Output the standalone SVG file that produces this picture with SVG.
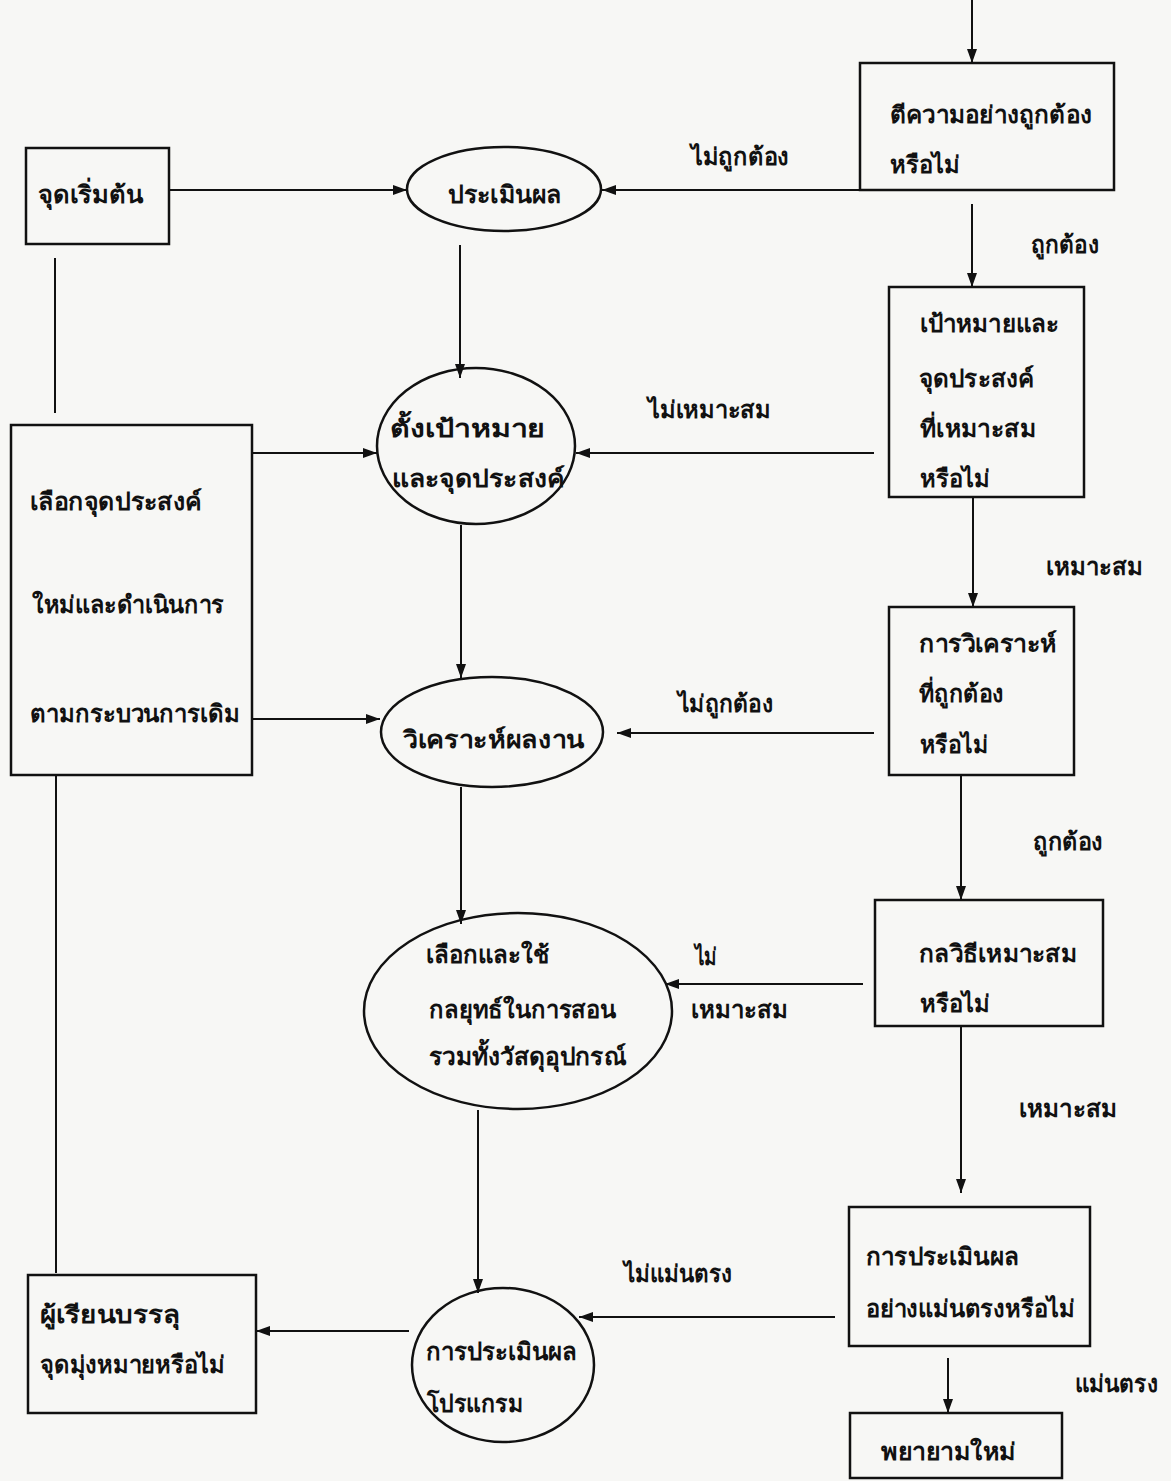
<svg xmlns="http://www.w3.org/2000/svg" width="1171" height="1481" viewBox="0 0 1171 1481">
<style>
.n{fill:none;stroke:#111;stroke-width:2.5}
.c{fill:none;stroke:#111;stroke-width:2}
text{font-family:"Noto Sans","DejaVu Sans",sans-serif;font-size:24px;font-weight:bold;fill:#111;dominant-baseline:central;lengthAdjust:spacingAndGlyphs}
.m{text-anchor:middle}
</style>
<defs>
<marker id="a" viewBox="0 0 14 10" refX="14" refY="5" markerWidth="14" markerHeight="10" markerUnits="userSpaceOnUse" orient="auto">
<path d="M0,0L14,5L0,10z" fill="#111"/>
</marker>
</defs>
<rect width="1171" height="1481" fill="#f7f7f5"/>
<g id="connectors">
<line class="c" x1="972" y1="0" x2="972" y2="63" marker-end="url(#a)"/>
<line class="c" x1="169" y1="190" x2="407" y2="190" marker-end="url(#a)"/>
<line class="c" x1="1114" y1="190" x2="602" y2="190" marker-end="url(#a)"/>
<line class="c" x1="972" y1="204" x2="972" y2="287" marker-end="url(#a)"/>
<line class="c" x1="55" y1="258" x2="55" y2="413"/>
<line class="c" x1="460" y1="245" x2="460" y2="378" marker-end="url(#a)"/>
<line class="c" x1="252" y1="453" x2="377" y2="453" marker-end="url(#a)"/>
<line class="c" x1="874" y1="453" x2="576" y2="453" marker-end="url(#a)"/>
<line class="c" x1="973" y1="497" x2="973" y2="607" marker-end="url(#a)"/>
<line class="c" x1="461" y1="525" x2="461" y2="678" marker-end="url(#a)"/>
<line class="c" x1="252" y1="719" x2="380" y2="719" marker-end="url(#a)"/>
<line class="c" x1="874" y1="733" x2="617" y2="733" marker-end="url(#a)"/>
<line class="c" x1="461" y1="787" x2="461" y2="924" marker-end="url(#a)"/>
<line class="c" x1="961" y1="775" x2="961" y2="900" marker-end="url(#a)"/>
<line class="c" x1="863" y1="984" x2="665" y2="984" marker-end="url(#a)"/>
<line class="c" x1="961" y1="1026" x2="961" y2="1193" marker-end="url(#a)"/>
<line class="c" x1="478" y1="1110" x2="478" y2="1293" marker-end="url(#a)"/>
<line class="c" x1="835" y1="1317" x2="579" y2="1317" marker-end="url(#a)"/>
<line class="c" x1="409" y1="1331" x2="256" y2="1331" marker-end="url(#a)"/>
<line class="c" x1="56" y1="775" x2="56" y2="1273"/>
<line class="c" x1="948" y1="1358" x2="948" y2="1413" marker-end="url(#a)"/>
</g>
<g id="n-interpret">
<rect class="n" x="860" y="63" width="254" height="127"/>
<text x="890" y="113" textLength="202" lengthAdjust="spacingAndGlyphs">ตีความอย่างถูกต้อง</text>
<text x="890" y="163" textLength="70" lengthAdjust="spacingAndGlyphs">หรือไม่</text>
</g>
<g id="n-start">
<rect class="n" x="26" y="148" width="143" height="96"/>
<text x="38" y="193" textLength="105" lengthAdjust="spacingAndGlyphs">จุดเริ่มต้น</text>
</g>
<g id="n-evaluate">
<ellipse class="n" cx="504" cy="189" rx="97" ry="42"/>
<text x="448" y="193" textLength="114" lengthAdjust="spacingAndGlyphs">ประเมินผล</text>
</g>
<g id="n-goal">
<rect class="n" x="889" y="287" width="195" height="210"/>
<text x="920" y="322" textLength="139" lengthAdjust="spacingAndGlyphs">เป้าหมายและ</text>
<text x="919" y="377" textLength="115" lengthAdjust="spacingAndGlyphs">จุดประสงค์</text>
<text x="920" y="427" textLength="116" lengthAdjust="spacingAndGlyphs">ที่เหมาะสม</text>
<text x="920" y="477" textLength="70" lengthAdjust="spacingAndGlyphs">หรือไม่</text>
</g>
<g id="n-setgoal">
<ellipse class="n" cx="476" cy="446" rx="99" ry="78"/>
<text x="390" y="427" textLength="155" lengthAdjust="spacingAndGlyphs">ตั้งเป้าหมาย</text>
<text x="392" y="477" textLength="173" lengthAdjust="spacingAndGlyphs">และจุดประสงค์</text>
</g>
<g id="n-reselect">
<rect class="n" x="11" y="425" width="241" height="350"/>
<text x="30" y="500" textLength="172" lengthAdjust="spacingAndGlyphs">เลือกจุดประสงค์</text>
<text x="32" y="603" textLength="192" lengthAdjust="spacingAndGlyphs">ใหม่และดำเนินการ</text>
<text x="30" y="712" textLength="210" lengthAdjust="spacingAndGlyphs">ตามกระบวนการเดิม</text>
</g>
<g id="n-analysis">
<rect class="n" x="889" y="607" width="185" height="168"/>
<text x="919" y="642" textLength="138" lengthAdjust="spacingAndGlyphs">การวิเคราะห์</text>
<text x="919" y="692" textLength="85" lengthAdjust="spacingAndGlyphs">ที่ถูกต้อง</text>
<text x="920" y="743" textLength="68" lengthAdjust="spacingAndGlyphs">หรือไม่</text>
</g>
<g id="n-analyze">
<ellipse class="n" cx="492" cy="732" rx="111" ry="55"/>
<text x="403" y="738" textLength="181" lengthAdjust="spacingAndGlyphs">วิเคราะห์ผลงาน</text>
</g>
<g id="n-method">
<rect class="n" x="875" y="900" width="228" height="126"/>
<text x="919" y="952" textLength="158" lengthAdjust="spacingAndGlyphs">กลวิธีเหมาะสม</text>
<text x="920" y="1002" textLength="70" lengthAdjust="spacingAndGlyphs">หรือไม่</text>
</g>
<g id="n-strategy">
<ellipse class="n" cx="518" cy="1011" rx="154" ry="98"/>
<text x="426" y="953" textLength="123" lengthAdjust="spacingAndGlyphs">เลือกและใช้</text>
<text x="429" y="1008" textLength="187" lengthAdjust="spacingAndGlyphs">กลยุทธ์ในการสอน</text>
<text x="429" y="1055" textLength="197" lengthAdjust="spacingAndGlyphs">รวมทั้งวัสดุอุปกรณ์</text>
</g>
<g id="n-accurate">
<rect class="n" x="849" y="1207" width="241" height="139"/>
<text x="866" y="1255" textLength="153" lengthAdjust="spacingAndGlyphs">การประเมินผล</text>
<text x="866" y="1307" textLength="209" lengthAdjust="spacingAndGlyphs">อย่างแม่นตรงหรือไม่</text>
</g>
<g id="n-program">
<ellipse class="n" cx="503" cy="1365" rx="91" ry="77"/>
<text x="426" y="1350" textLength="151" lengthAdjust="spacingAndGlyphs">การประเมินผล</text>
<text x="427" y="1402" textLength="96" lengthAdjust="spacingAndGlyphs">โปรแกรม</text>
</g>
<g id="n-learner">
<rect class="n" x="28" y="1275" width="228" height="138"/>
<text x="40" y="1313" textLength="140" lengthAdjust="spacingAndGlyphs">ผู้เรียนบรรลุ</text>
<text x="40" y="1363" textLength="185" lengthAdjust="spacingAndGlyphs">จุดมุ่งหมายหรือไม่</text>
</g>
<g id="n-retry">
<rect class="n" x="850" y="1413" width="212" height="65"/>
<text x="881" y="1450" textLength="135" lengthAdjust="spacingAndGlyphs">พยายามใหม่</text>
</g>
<g id="labels">
<text x="691" y="155" textLength="98" lengthAdjust="spacingAndGlyphs">ไม่ถูกต้อง</text>
<text x="1031" y="243" textLength="68" lengthAdjust="spacingAndGlyphs">ถูกต้อง</text>
<text x="648" y="408" textLength="123" lengthAdjust="spacingAndGlyphs">ไม่เหมาะสม</text>
<text x="1046" y="565" textLength="97" lengthAdjust="spacingAndGlyphs">เหมาะสม</text>
<text x="678" y="702" textLength="95" lengthAdjust="spacingAndGlyphs">ไม่ถูกต้อง</text>
<text x="1033" y="840" textLength="70" lengthAdjust="spacingAndGlyphs">ถูกต้อง</text>
<text x="695" y="955" textLength="22" lengthAdjust="spacingAndGlyphs">ไม่</text>
<text x="691" y="1008" textLength="97" lengthAdjust="spacingAndGlyphs">เหมาะสม</text>
<text x="1019" y="1107" textLength="98" lengthAdjust="spacingAndGlyphs">เหมาะสม</text>
<text x="624" y="1272" textLength="108" lengthAdjust="spacingAndGlyphs">ไม่แม่นตรง</text>
<text x="1075" y="1382" textLength="83" lengthAdjust="spacingAndGlyphs">แม่นตรง</text>
</g>
</svg>
